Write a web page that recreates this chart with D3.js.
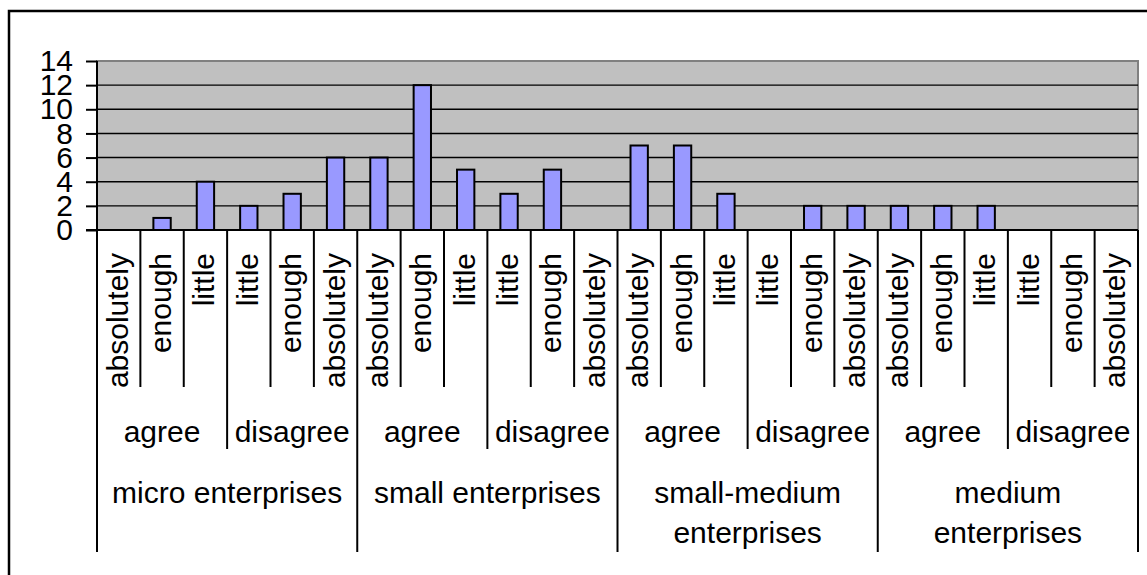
<!DOCTYPE html>
<html>
<head>
<meta charset="utf-8">
<script src="https://cdn.jsdelivr.net/npm/d3@7"></script>
<style>
  html, body { margin: 0; padding: 0; background: #fff; }
  svg { display: block; }
  text { font-family: Arial, "Liberation Sans", sans-serif; fill: #000; }
</style>
</head>
<body>
<svg id="chart" width="1147" height="575"></svg>
<script>
// Company size groups, opinion sub-groups and answer levels
const sizes = ["micro enterprises", "small enterprises", "small-medium enterprises", "medium enterprises"];
const opinions = ["agree", "disagree"];
const agreeLevels = ["absolutely", "enough", "little"];
const disagreeLevels = ["little", "enough", "absolutely"];

// Number of answers per leaf category, in axis order
const counts = [
  0, 1, 4, 2, 3, 6,
  6, 12, 5, 3, 5, 0,
  7, 7, 3, 0, 2, 2,
  2, 2, 2, 0, 0, 0
];

const yTicks = [0, 2, 4, 6, 8, 10, 12, 14];

// Flattened leaf table built from the arrays above
const leaves = [];
sizes.forEach((s, si) => {
  opinions.forEach((o, oi) => {
    const lv = oi === 0 ? agreeLevels : disagreeLevels;
    lv.forEach((l, li) => {
      const idx = leaves.length;
      leaves.push({ idx, size: s, si, opinion: o, oi, level: l, value: counts[idx] });
    });
  });
});

const svg = d3.select("#chart");
const FONT = 30;

const plot = { left: 97, right: 1138, top: 61, bottom: 230 };

const x = d3.scaleBand()
  .domain(leaves.map(d => d.idx))
  .range([plot.left, plot.right])
  .padding(0);

const y = d3.scaleLinear()
  .domain([0, 14])
  .range([plot.bottom, plot.top]);

const bw = x.bandwidth();
const barW = bw / 2.5; // gap width 150%

// Outer chart frame
svg.append("rect")
  .attr("x", 9).attr("y", 11)
  .attr("width", 1170).attr("height", 620)
  .attr("fill", "none")
  .attr("stroke", "#000")
  .attr("stroke-width", 2.5);

// Plot area
svg.append("rect")
  .attr("x", plot.left).attr("y", plot.top)
  .attr("width", plot.right - plot.left)
  .attr("height", plot.bottom - plot.top)
  .attr("fill", "#C0C0C0")
  .attr("stroke", "#808080")
  .attr("stroke-width", 2);

// Horizontal gridlines
svg.append("g")
  .selectAll("line")
  .data(yTicks.filter(t => t > 0 && t < 14))
  .join("line")
  .attr("x1", plot.left).attr("x2", plot.right)
  .attr("y1", d => y(d)).attr("y2", d => y(d))
  .attr("stroke", "#000")
  .attr("stroke-width", 1.4);

// Bars
svg.append("g")
  .selectAll("rect")
  .data(leaves.filter(d => d.value > 0))
  .join("rect")
  .attr("x", d => x(d.idx) + (bw - barW) / 2)
  .attr("y", d => y(d.value))
  .attr("width", barW)
  .attr("height", d => y(0) - y(d.value))
  .attr("fill", "#9999FF")
  .attr("stroke", "#000")
  .attr("stroke-width", 2);

// Value axis
const yAxis = d3.axisLeft(y)
  .tickValues(yTicks)
  .tickSize(11)
  .tickPadding(13)
  .tickFormat(d3.format("d"));

const yg = svg.append("g")
  .attr("transform", `translate(${plot.left},0)`)
  .call(yAxis);
yg.select(".domain").remove();
yg.selectAll(".tick line").attr("stroke", "#000").attr("stroke-width", 2);
yg.selectAll(".tick text")
  .attr("font-size", FONT)
  .attr("font-family", "Arial, 'Liberation Sans', sans-serif")
  .attr("fill", "#000");

svg.append("line")
  .attr("x1", plot.left).attr("x2", plot.left)
  .attr("y1", plot.top).attr("y2", plot.bottom)
  .attr("stroke", "#000").attr("stroke-width", 2);

// Category axis baseline
svg.append("line")
  .attr("x1", plot.left - 11).attr("x2", plot.right)
  .attr("y1", plot.bottom).attr("y2", plot.bottom)
  .attr("stroke", "#000").attr("stroke-width", 2);

// Category separators, longer at higher grouping levels
const boundaryIdx = d3.range(leaves.length + 1);
const boundaryX = i => (i < leaves.length ? x(i) : plot.right);
const sepEnd = i => (i % 6 === 0 ? 552 : i % 3 === 0 ? 449 : 387);

svg.append("g")
  .selectAll("line")
  .data(boundaryIdx)
  .join("line")
  .attr("x1", boundaryX).attr("x2", boundaryX)
  .attr("y1", plot.bottom).attr("y2", sepEnd)
  .attr("stroke", "#000")
  .attr("stroke-width", 2);

// Answer level labels (rotated)
svg.append("g")
  .selectAll("text")
  .data(leaves)
  .join("text")
  .attr("transform", d => `translate(${x(d.idx) + bw / 2},253) rotate(-90)`)
  .attr("text-anchor", "end")
  .attr("dy", "0.3em")
  .attr("font-size", FONT)
  .text(d => d.level);

// Opinion labels
const opinionSpans = [];
sizes.forEach((s, si) => opinions.forEach((o, oi) => {
  const start = si * 6 + oi * 3;
  opinionSpans.push({ label: o, x0: boundaryX(start), x1: boundaryX(start + 3) });
}));

svg.append("g")
  .selectAll("text")
  .data(opinionSpans)
  .join("text")
  .attr("x", d => (d.x0 + d.x1) / 2)
  .attr("y", 442)
  .attr("text-anchor", "middle")
  .attr("font-size", FONT)
  .text(d => d.label);

// Company size labels, wrapped when wider than their span
const sizeSpans = sizes.map((s, si) => ({ label: s, x0: boundaryX(si * 6), x1: boundaryX(si * 6 + 6) }));

const sizeText = svg.append("g")
  .selectAll("text")
  .data(sizeSpans)
  .join("text")
  .attr("x", d => (d.x0 + d.x1) / 2)
  .attr("y", 503)
  .attr("text-anchor", "middle")
  .attr("font-size", FONT);

sizeText.each(function (d) {
  const t = d3.select(this);
  const cx = (d.x0 + d.x1) / 2;
  const maxW = d.x1 - d.x0 - 12;
  const words = d.label.split(" ");
  let line = [];
  let lineNo = 0;
  let tspan = t.append("tspan").attr("x", cx).attr("dy", 0);
  words.forEach(w => {
    line.push(w);
    tspan.text(line.join(" "));
    if (tspan.node().getComputedTextLength() > maxW && line.length > 1) {
      line.pop();
      tspan.text(line.join(" "));
      line = [w];
      lineNo += 1;
      tspan = t.append("tspan").attr("x", cx).attr("dy", 40).text(w);
    }
  });
});
</script>
</body>
</html>
